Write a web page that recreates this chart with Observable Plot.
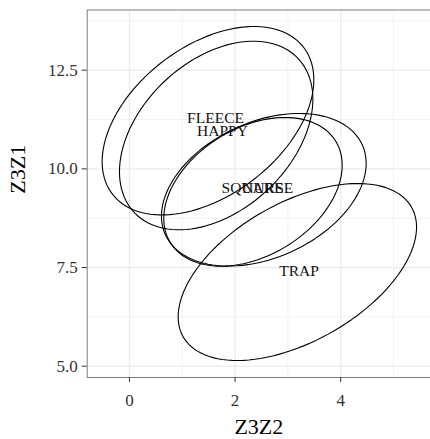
<!DOCTYPE html>
<html>
<head>
<meta charset="utf-8">
<script src="https://cdn.jsdelivr.net/npm/d3@7"></script>
<script src="https://cdn.jsdelivr.net/npm/@observablehq/plot@0.6"></script>
<style>
  html, body { margin: 0; padding: 0; background: #fff; }
  svg text { font-family: "Liberation Serif", serif; }
</style>
</head>
<body>
<div id="chart"></div>
<script>
// Groups (lexical sets)
const groups = ["FLEECE", "HAPPY", "NURSE", "SQUARE", "TRAP"];
// Label positions (group means)
const labelX = [1.63, 1.76, 2.62, 2.33, 3.21];
const labelY = [11.29, 10.97, 9.52, 9.52, 7.41];
// Ellipse parameters (centre, spread along x / y, correlation)
const ellCX = [1.487, 1.642, 2.544, 2.339, 3.179];
const ellCY = [11.22, 10.846, 9.47, 9.418, 7.387];
const ellSX = [2.004, 1.831, 1.938, 1.689, 2.257];
const ellSY = [2.387, 2.389, 1.934, 1.884, 2.242];
const ellR  = [0.435, 0.385, 0.345, 0.358, 0.506];
// Axis breaks
const xMajor = [0, 2, 4];
const xMinor = [1, 3, 5];
const yMajor = [5, 7.5, 10, 12.5];
const yMinor = [6.25, 8.75, 11.25, 13.75];
const xDomain = [-0.8, 5.7];
const yDomain = [4.714, 14.025];

// Build ellipse outlines (like stat_ellipse) from the parameters
const N = 120;
const ellipsePts = [];
groups.forEach((g, i) => {
  const r = ellR[i];
  for (let k = 0; k < N; k++) {
    const t = (2 * Math.PI * k) / N;
    ellipsePts.push({
      group: g,
      x: ellCX[i] + ellSX[i] * Math.cos(t),
      y: ellCY[i] + ellSY[i] * (r * Math.cos(t) + Math.sqrt(1 - r * r) * Math.sin(t))
    });
  }
});
const labels = groups.map((g, i) => ({group: g, x: labelX[i], y: labelY[i]}));

const font = "Liberation Serif";
const chart = Plot.plot({
  width: 430,
  height: 439,
  marginTop: 9.5,
  marginBottom: 62,
  marginLeft: 86.7,
  marginRight: 0,
  style: {fontFamily: font, background: "#fff"},
  x: {domain: xDomain},
  y: {domain: yDomain},
  marks: [
    Plot.ruleX(xMinor, {stroke: "#f2f2f2", strokeWidth: 1}),
    Plot.ruleY(yMinor, {stroke: "#f2f2f2", strokeWidth: 1}),
    Plot.ruleX(xMajor, {stroke: "#ebebeb", strokeWidth: 1.3}),
    Plot.ruleY(yMajor, {stroke: "#ebebeb", strokeWidth: 1.3}),
    Plot.line(ellipsePts, {x: "x", y: "y", z: "group", curve: "linear-closed", stroke: "#000", strokeWidth: 1.1}),
    Plot.text(labels, {x: "x", y: "y", text: "group", fontSize: 15.5, fill: "#111", fontFamily: font}),
    Plot.frame({stroke: "#7f7f7f", strokeWidth: 1, insetRight: -2}),
    Plot.axisX({ticks: xMajor, tickSize: 5, tickPadding: 11.6, fontSize: 17, fontFamily: font, color: "#333", label: null, tickFormat: d3.format("d"), fill: "#333"}),
    Plot.axisY({ticks: yMajor, tickSize: 5, tickPadding: 4.4, fontSize: 17, fontFamily: font, color: "#333", label: null, tickFormat: d3.format(".1f"), fill: "#333"}),
    Plot.text(["Z3Z2"], {frameAnchor: "bottom", lineAnchor: "bottom", dy: 56, fontSize: 22, fill: "#000", fontFamily: font}),
    Plot.text(["Z3Z1"], {frameAnchor: "left", lineAnchor: "bottom", rotate: -90, dx: -61.7, fontSize: 22, fill: "#000", fontFamily: font})
  ]
});
document.getElementById("chart").appendChild(chart);
</script>
</body>
</html>
